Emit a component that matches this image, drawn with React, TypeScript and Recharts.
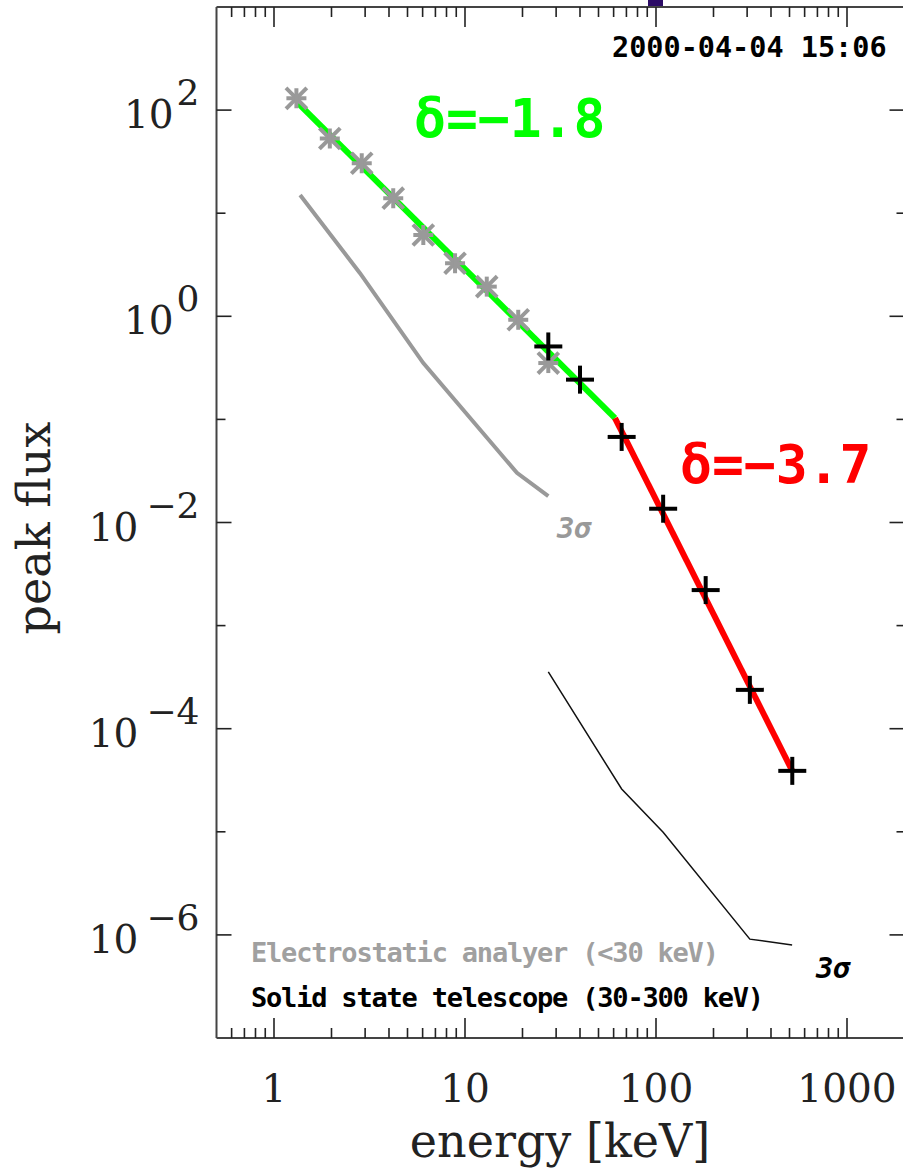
import React from 'react';
import { ComposedChart, XAxis, YAxis, Line, Scatter, Customized } from 'recharts';

// electrostatic analyser peak flux (< 30 keV)
const esaEnergy = [1.31, 1.96, 2.88, 4.21, 6.05, 8.87, 13.0, 19.0, 27.3];
const esaFlux = [130, 53, 30.5, 14.0, 6.15, 3.27, 1.94, 0.925, 0.352];

// solid state telescope peak flux (30-300 keV)
const sstEnergy = [27.3, 40.0, 66.1, 109, 182, 310, 517];
const sstFlux = [0.51, 0.243, 0.0676, 0.0136, 0.00221, 2.38e-4, 3.9e-5];

// broken power-law fit, break near 61 keV
const fitLowEnergy = [1.34, 61];
const fitLowFlux = [116, 0.103];
const fitHighEnergy = [61, 517];
const fitHighFlux = [0.103, 3.9e-5];

// 3 sigma noise levels
const esaSigmaEnergy = [1.37, 2.82, 6.05, 18.7, 27.3];
const esaSigmaFlux = [15.0, 2.62, 0.352, 0.0303, 0.018];
const sstSigmaEnergy = [27.3, 66.1, 109, 310, 516];
const sstSigmaFlux = [3.55e-4, 2.6e-5, 9.9e-6, 9.1e-7, 8.0e-7];

const energyTicks = [
  0.6, 0.7, 0.8, 0.9, 1, 2, 3, 4, 5, 6, 7, 8, 9, 10, 20, 30, 40, 50, 60, 70, 80, 90,
  100, 200, 300, 400, 500, 600, 700, 800, 900, 1000,
];
const fluxTicks = [1e-6, 1e-5, 1e-4, 1e-3, 1e-2, 1e-1, 1, 10, 100];

const pts = (e: number[], f: number[]) => e.map((v, i) => ({ e: v, f: f[i] }));

const SERIF = '"DejaVu Serif", serif';
const MONO = '"DejaVu Sans Mono", monospace';

const isDecade = (v: number) => Math.abs(Math.log10(v) - Math.round(Math.log10(v))) < 1e-6;

const BottomTick = ({ x, y, payload }: any) => {
  const major = isDecade(payload.value);
  return (
    <g>
      <line x1={x} x2={x} y1={y} y2={y - (major ? 20 : 10)} stroke="#222" strokeWidth={1.6} />
      {major && (
        <text x={x} y={y + 64} textAnchor="middle" fontFamily={SERIF} fontSize={39} fill="#222">
          {payload.value}
        </text>
      )}
    </g>
  );
};

const TopTick = ({ x, y, payload }: any) => {
  const major = isDecade(payload.value);
  return <line x1={x} x2={x} y1={y} y2={y + (major ? 20 : 10)} stroke="#222" strokeWidth={1.6} />;
};

const LeftTick = ({ x, y, payload }: any) => {
  const exp = Math.round(Math.log10(payload.value));
  const major = exp % 2 === 0;
  return (
    <g>
      <line x1={x} x2={x + (major ? 15 : 9)} y1={y} y2={y} stroke="#222" strokeWidth={1.6} />
      {major && (
        <text x={x - 17} y={y + 18} textAnchor="end" fontFamily={SERIF} fontSize={39} fill="#222">
          10
          <tspan dx={exp < 0 ? 8 : 3} dy={-23} fontSize={36}>
            {exp < 0 ? `\u2212${-exp}` : exp}
          </tspan>
        </text>
      )}
    </g>
  );
};

const RightTick = ({ x, y, payload }: any) => {
  const exp = Math.round(Math.log10(payload.value));
  const major = exp % 2 === 0;
  return <line x1={x} x2={x - (major ? 15 : 8)} y1={y} y2={y} stroke="#222" strokeWidth={1.6} />;
};

const Asterisk = ({ cx, cy }: any) => (
  <g stroke="#999" strokeWidth={4} strokeLinecap="square">
    <line x1={cx - 9} y1={cy - 9} x2={cx + 9} y2={cy + 9} />
    <line x1={cx - 9} y1={cy + 9} x2={cx + 9} y2={cy - 9} />
    <line x1={cx - 8} y1={cy} x2={cx + 8} y2={cy} />
    <line x1={cx} y1={cy - 8} x2={cx} y2={cy + 8} />
  </g>
);

const Plus = ({ cx, cy }: any) => (
  <g stroke="#000" strokeWidth={4}>
    <line x1={cx - 14} y1={cy} x2={cx + 14} y2={cy} />
    <line x1={cx} y1={cy - 14} x2={cx} y2={cy + 14} />
  </g>
);

const Texts = () => (
  <g>
    <text x={560} y={1157} textAnchor="middle" fontFamily={SERIF} fontSize={46} fill="#222">
      energy [keV]
    </text>
    <text x={0} y={0} transform="translate(50 528) rotate(-90)" textAnchor="middle"
      fontFamily={SERIF} fontSize={46} fill="#222">
      peak flux
    </text>
    <text x={612} y={57} fontFamily={MONO} fontWeight="bold" fontSize={28.5} fill="#000">
      2000-04-04 15:06
    </text>
    <text x={414} y={137} fontFamily={MONO} fontWeight="bold" fontSize={53} fill="#00ff00">
      δ=−1.8
    </text>
    <text x={680} y={483} fontFamily={MONO} fontWeight="bold" fontSize={53} fill="#ff0000">
      δ=−3.7
    </text>
    <text x={557} y={538} fontFamily={MONO} fontWeight="bold" fontStyle="italic" fontSize={29} fill="#999">
      3σ
    </text>
    <text x={816} y={978} fontFamily={MONO} fontWeight="bold" fontStyle="italic" fontSize={29} fill="#000">
      3σ
    </text>
    <text x={251} y={962} fontFamily={MONO} fontWeight="bold" fontSize={27} letterSpacing={-1.2} fill="#a0a0a0">
      Electrostatic analyer (&lt;30 keV)
    </text>
    <text x={251} y={1007} fontFamily={MONO} fontWeight="bold" fontSize={27} letterSpacing={-1.2} fill="#000">
      Solid state telescope (30-300 keV)
    </text>
  </g>
);

const frame = { stroke: '#444', strokeWidth: 2 };

export default function App() {
  return (
    <div style={{ position: 'absolute', left: 0, top: 0, width: 903, height: 1171, overflow: 'hidden', background: '#fff' }}>
      <div style={{ position: 'absolute', left: 648, top: 0, width: 15, height: 8, background: '#2c0c66' }} />
      <ComposedChart width={912} height={1171} margin={{ top: 6, left: 215.5, right: 6.5, bottom: 132 }}>
        <XAxis xAxisId="b" dataKey="e" type="number" scale="log" domain={[0.5, 2000]} allowDataOverflow
          ticks={energyTicks} interval={0} height={1} tickSize={0} tickMargin={0} tickLine={false}
          axisLine={frame} tick={<BottomTick />} />
        <XAxis xAxisId="t" orientation="top" dataKey="e" type="number" scale="log" domain={[0.5, 2000]} allowDataOverflow
          ticks={energyTicks} interval={0} height={1} tickSize={0} tickMargin={0} tickLine={false}
          axisLine={frame} tick={<TopTick />} />
        <YAxis yAxisId="l" dataKey="f" type="number" scale="log" domain={[1e-7, 1e3]} allowDataOverflow
          ticks={fluxTicks} interval={0} width={1} tickSize={0} tickMargin={0} tickLine={false}
          axisLine={frame} tick={<LeftTick />} />
        <YAxis yAxisId="r" orientation="right" dataKey="f" type="number" scale="log" domain={[1e-7, 1e3]} allowDataOverflow
          ticks={fluxTicks} interval={0} width={1} tickSize={0} tickMargin={0} tickLine={false}
          axisLine={frame} tick={<RightTick />} />

        <Line xAxisId="b" yAxisId="l" data={pts(esaSigmaEnergy, esaSigmaFlux)} dataKey="f" stroke="#999"
          strokeWidth={4} dot={false} isAnimationActive={false} />
        <Line xAxisId="b" yAxisId="l" data={pts(sstSigmaEnergy, sstSigmaFlux)} dataKey="f" stroke="#111"
          strokeWidth={1.5} dot={false} isAnimationActive={false} />
        <Scatter xAxisId="b" yAxisId="l" data={pts(esaEnergy, esaFlux)} dataKey="f" shape={<Asterisk />}
          isAnimationActive={false} />
        <Scatter xAxisId="b" yAxisId="l" data={pts(sstEnergy, sstFlux)} dataKey="f" shape={<Plus />}
          isAnimationActive={false} />
        <Line xAxisId="b" yAxisId="l" data={pts(fitLowEnergy, fitLowFlux)} dataKey="f" stroke="#00ff00"
          strokeWidth={6} dot={false} isAnimationActive={false} />
        <Line xAxisId="b" yAxisId="l" data={pts(fitHighEnergy, fitHighFlux)} dataKey="f" stroke="#ff0000"
          strokeWidth={6} dot={false} isAnimationActive={false} />

        <Customized component={Texts} />
      </ComposedChart>
    </div>
  );
}
